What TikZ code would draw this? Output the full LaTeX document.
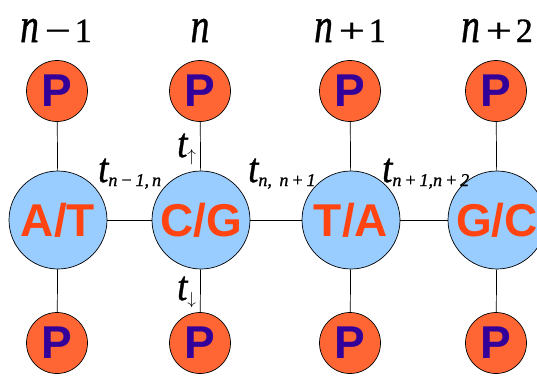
\documentclass[tikz,border=0pt]{standalone}
\usepackage{fontspec}
\setmainfont{Liberation Serif}
\newfontfamily\labfont{Liberation Serif}[FakeBold=1]
\newfontfamily\arialfont{Liberation Sans}
\definecolor{baseblue}{HTML}{99CCFF}
\definecolor{porange}{HTML}{FF6633}
\definecolor{basetext}{HTML}{FF4411}
\definecolor{ptext}{HTML}{330099}
\newcommand{\tallN}{\scalebox{1.1}[1.45]{\itshape n}}
\newcommand{\wideop}[1]{\hspace{6pt}\scalebox{1.35}[1]{#1}\hspace{4pt}}
\newcommand{\subfont}{\fontsize{18}{18}\selectfont}
\newcommand{\tlab}[1]{\scalebox{1.15}[1.3]{\itshape t}\raisebox{-4pt}{\subfont\itshape #1}}
\begin{document}
\begin{tikzpicture}[x=1pt,y=-1pt,
  basenode/.style={circle,draw=black,line width=0.7pt,fill=baseblue,minimum size=98pt,inner sep=0pt,
    text=basetext,font=\arialfont\bfseries\fontsize{46}{46}\selectfont},
  pnode/.style={circle,draw=black,line width=0.7pt,fill=porange,minimum size=61pt,inner sep=0pt,
    text=ptext,font=\arialfont\bfseries\fontsize{46}{46}\selectfont},
  poslab/.style={inner sep=0pt,font=\labfont\fontsize{34}{34}\selectfont,anchor=base},
  hop/.style={inner sep=0pt,font=\labfont\fontsize{32}{32}\selectfont,anchor=base west},
  link/.style={line width=0.7pt,draw=black}]
\useasboundingbox (0,0) rectangle (537,378);
\clip (0,0) rectangle (537,378);
% base nodes
\node[basenode] (b1) at (58,220) {A/T};
\node[basenode] (b2) at (201,220) {C/G};
\node[basenode] (b3) at (351,220) {T/A};
\node[basenode] (b4) at (497,220) {G/C};
% top P
\node[pnode] (t1) at (57,91) {P};
\node[pnode] (t2) at (200,91) {P};
\node[pnode] (t3) at (350,91) {P};
\node[pnode] (t4) at (496,91) {P};
% bottom P
\node[pnode] (d1) at (57,343) {P};
\node[pnode] (d2) at (200,343) {P};
\node[pnode] (d3) at (350,343) {P};
\node[pnode] (d4) at (496,343) {P};
% connectors
\foreach \i in {1,2,3,4}{
  \draw[link] (t\i) -- (b\i);
  \draw[link] (b\i) -- (d\i);
}
\draw[link] (b1) -- (b2);
\draw[link] (b2) -- (b3);
\draw[link] (b3) -- (b4);
% position labels
\node[poslab] (l1) at (56,42) {\tallN\wideop{−}1};
\node[poslab] (l2) at (200,42) {\tallN};
\node[poslab] (l3) at (350,42) {\tallN\wideop{+}1};
\node[poslab] (l4) at (497,42) {\tallN\wideop{+}2};
% hopping labels
\node[hop] (h1) at (98,182) {\tlab{n\,−\,1,\,n}};
\node[hop] (h2) at (248,182) {\tlab{n,\, n\,+\,1}};
\node[hop] (h3) at (382,182) {\tlab{n\,+\,1,n\,+\,2}};
\node[hop] (hu) at (177,157) {\tlab{$\uparrow$}};
\node[hop] (hd) at (177,300) {\tlab{$\downarrow$}};
\end{tikzpicture}
\end{document}
